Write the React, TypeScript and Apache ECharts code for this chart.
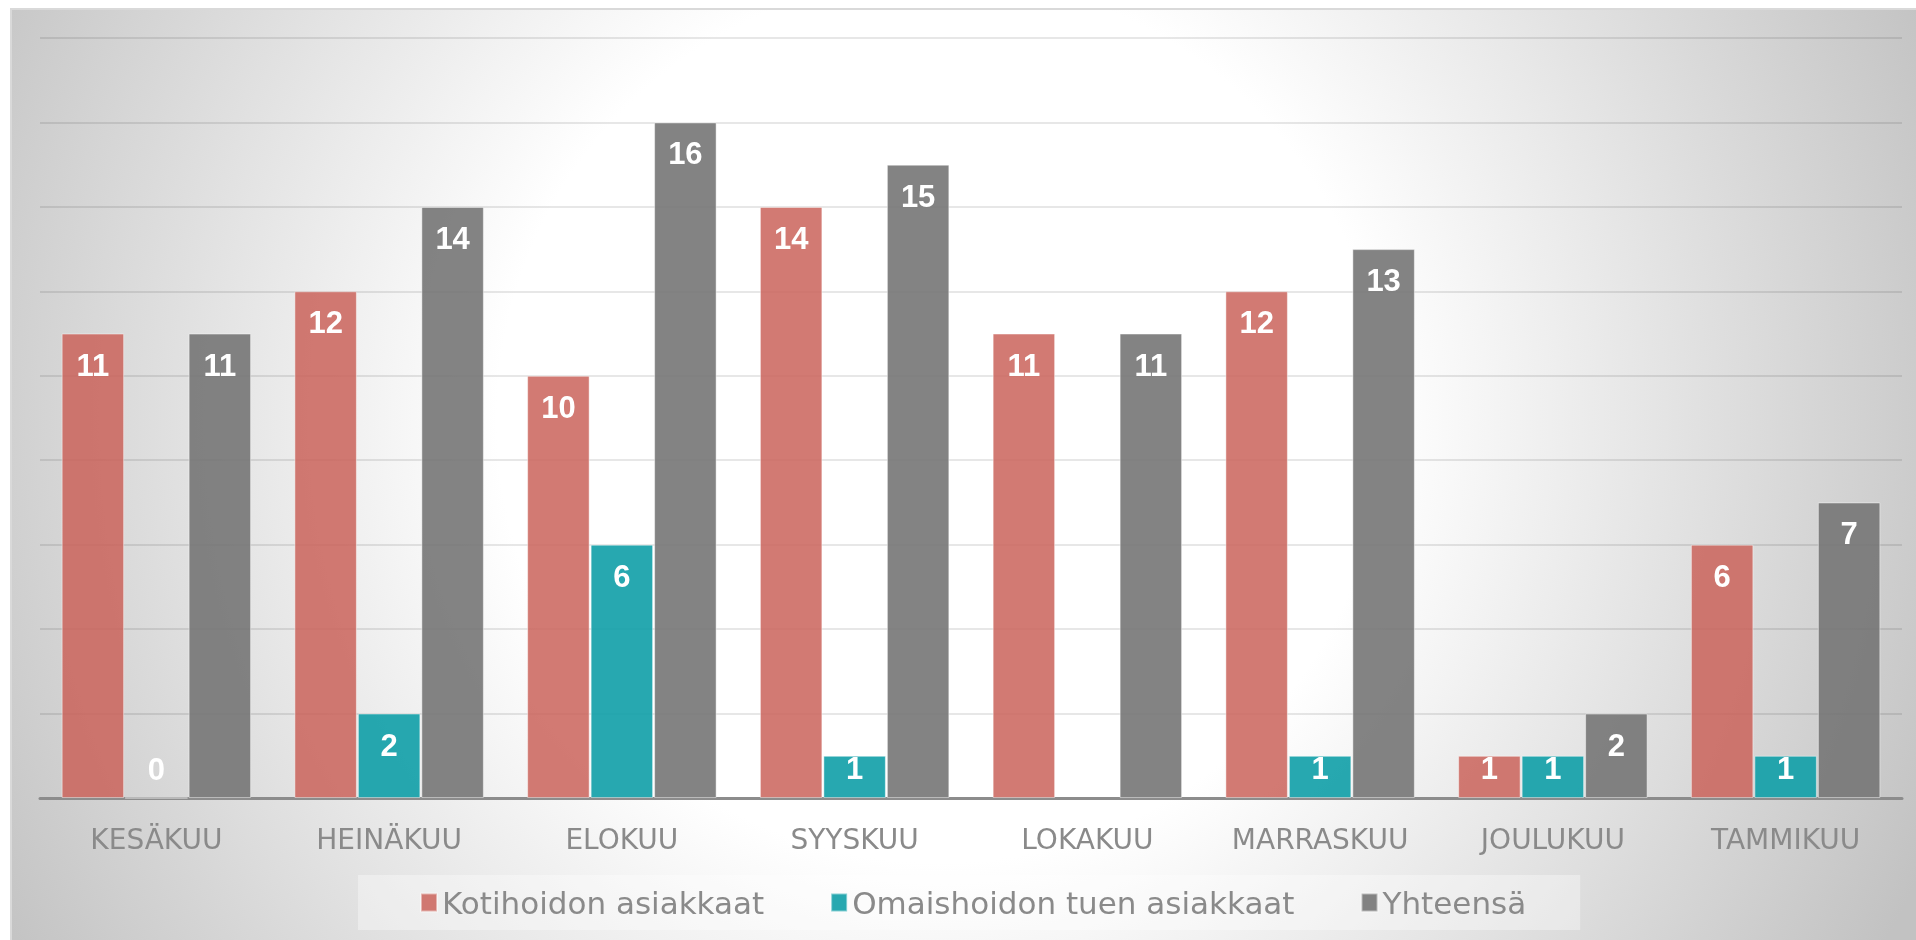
import React, { useEffect, useRef } from "react";
import * as echarts from "echarts";

const categories = ["KESÄKUU", "HEINÄKUU", "ELOKUU", "SYYSKUU", "LOKAKUU", "MARRASKUU", "JOULUKUU", "TAMMIKUU"];
const seriesNames = ["Kotihoidon asiakkaat", "Omaishoidon tuen asiakkaat", "Yhteensä"];
const kotihoito = [11, 12, 10, 14, 11, 12, 1, 6];
const omaishoito: (number | null)[] = [0, 2, 6, 1, null, 1, 1, 1];
const yhteensa = [11, 14, 16, 15, 11, 13, 2, 7];
const yMin = 0;
const yMax = 18;
const yStep = 2;

const colors = ["rgba(202,99,91,0.85)", "rgba(15,159,167,0.9)", "rgba(118,118,118,0.9)"];

export default function App() {
  const ref = useRef<HTMLDivElement>(null);
  useEffect(() => {
    const chart = echarts.init(ref.current!, null, { renderer: "svg" });
    const toData = (vals: (number | null)[]) =>
      vals.map((v) =>
        v == null
          ? "-"
          : v <= 1
          ? { value: v, label: { position: "insideBottom", distance: 14 } }
          : v
      );
    const mkSeries = (name: string, vals: (number | null)[], color: string) => ({
      name,
      type: "bar",
      data: toData(vals),
      barGap: "1.6%",
      barCategoryGap: "18.6%",
      itemStyle: { color, borderColor: "rgba(255,255,255,0.45)", borderWidth: 1 },
      label: {
        show: true,
        position: "insideTop",
        distance: 16,
        color: "#ffffff",
        fontWeight: "bold",
        fontSize: 31,
        fontFamily: "Liberation Sans, Arial, sans-serif",
      },
      emphasis: { disabled: true },
    });
    chart.setOption({
      animation: false,
      graphic: [
        {
          type: "rect",
          z: -100,
          silent: true,
          shape: { x: 11, y: 9, width: 1910, height: 935 },
          style: {
            fill: new echarts.graphic.RadialGradient(
              940,
              420,
              1080,
              [
                { offset: 0, color: "#ffffff" },
                { offset: 0.41, color: "#ffffff" },
                { offset: 1, color: "#c2c2c2" },
              ],
              true
            ),
            stroke: "#d9d9d9",
            lineWidth: 2,
          },
        },
      ],
      grid: { left: 40, right: 14, top: 38, bottom: 142, containLabel: false },
      legend: {
        data: seriesNames,
        left: 358,
        top: 875,
        padding: [12, 54, 12, 62],
        itemGap: 66,
        itemWidth: 16,
        itemHeight: 18,
        icon: "rect",
        backgroundColor: "rgba(255,255,255,0.35)",
        textStyle: { color: "#8a8a8a", fontSize: 31, fontFamily: "DejaVu Sans, sans-serif" },
      },
      xAxis: {
        type: "category",
        data: categories,
        axisLine: { lineStyle: { color: "#8c8c8c", width: 3 } },
        axisTick: { show: false },
        axisLabel: {
          interval: 0,
          color: "#8a8a8a",
          fontSize: 28,
          fontFamily: "DejaVu Sans, sans-serif",
          margin: 27,
        },
      },
      yAxis: {
        type: "value",
        min: yMin,
        max: yMax,
        interval: yStep,
        axisLabel: { show: false },
        axisLine: { show: false },
        axisTick: { show: false },
        splitLine: { lineStyle: { color: "rgba(0,0,0,0.13)", width: 1.5 } },
      },
      series: [
        mkSeries(seriesNames[0], kotihoito, colors[0]),
        mkSeries(seriesNames[1], omaishoito, colors[1]),
        mkSeries(seriesNames[2], yhteensa, colors[2]),
      ],
    });
    return () => chart.dispose();
  }, []);
  return <div ref={ref} style={{ position: "fixed", left: 0, top: 0, width: 1916, height: 940 }} />;
}
